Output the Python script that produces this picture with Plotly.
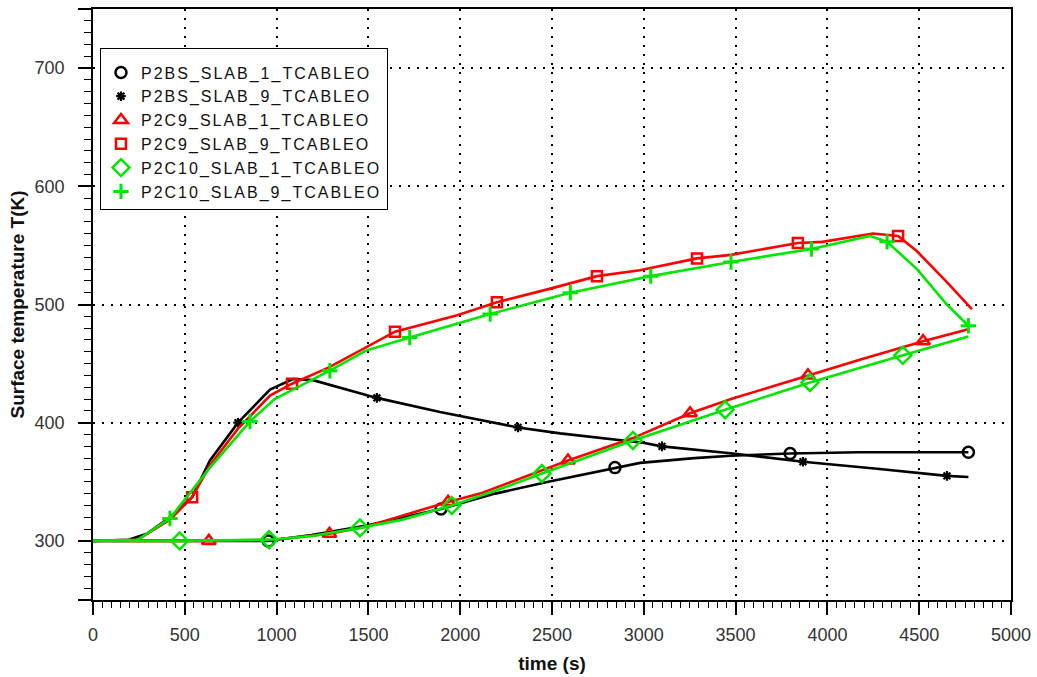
import plotly.graph_objects as go

# ---------------- data ----------------
names = ["P2BS_SLAB_1_TCABLEO", "P2BS_SLAB_9_TCABLEO",
         "P2C9_SLAB_1_TCABLEO", "P2C9_SLAB_9_TCABLEO",
         "P2C10_SLAB_1_TCABLEO", "P2C10_SLAB_9_TCABLEO"]

bs1_t = [0, 490, 955, 1190, 1490, 1895, 2190, 2480, 2843, 2980, 3275, 3475, 3797, 4170, 4470, 4768]
bs1_T = [300, 300, 300, 305, 313, 327, 340, 350, 362, 366, 370, 372, 374, 375, 375, 375]
bs1_mk = [2, 5, 8, 12, 15]

bs9_t = [0, 194, 293, 419, 540, 637, 790, 964, 1089, 1198, 1546, 1890, 2315, 2544, 2996, 3099,
         3485, 3867, 4271, 4651, 4768]
bs9_T = [300, 301, 306, 320, 337, 368, 400, 428, 437, 436, 421, 409, 396, 391, 383, 380,
         374, 367, 361, 355, 354]
bs9_mk = [6, 10, 12, 15, 17, 19]

c9s1_t = [0, 631, 989, 1288, 1486, 1934, 2108, 2587, 2941, 3252, 3475, 3894, 4172, 4521, 4768]
c9s1_T = [300, 300, 301, 306, 312, 333, 340, 368, 387, 408, 420, 440, 453, 469, 479]
c9s1_mk = [1, 3, 5, 7, 9, 11, 13]

c9s9_t = [0, 243, 419, 540, 637, 790, 964, 1084, 1288, 1486, 1645, 1984, 2200, 2481, 2745, 2978,
          3290, 3475, 3839, 3973, 4248, 4385, 4488, 4651, 4787]
c9s9_T = [300, 301, 318, 337, 364, 395, 423, 433, 447, 464, 477, 491, 502, 513, 524, 529,
          539, 542, 552, 553, 560, 558, 545, 519, 496]
c9s9_mk = [3, 7, 10, 12, 14, 16, 18, 21]

c10s1_t = [0, 472, 959, 1188, 1454, 1685, 1954, 2183, 2445, 2941, 3443, 3905, 4411, 4768]
c10s1_T = [300, 300, 301, 304, 311, 318, 330, 342, 357, 385, 411, 434, 457, 473]
c10s1_mk = [1, 2, 4, 6, 8, 9, 10, 11, 12]

c10s9_t = [0, 243, 419, 637, 855, 989, 1290, 1486, 1725, 1984, 2163, 2481, 2600, 3038, 3475,
           3913, 4232, 4325, 4488, 4651, 4768]
c10s9_T = [300, 301, 319, 362, 401, 420, 444, 461, 472, 484, 492, 505, 510, 524, 536,
           547, 558, 553, 530, 500, 482]
c10s9_mk = [2, 4, 6, 8, 10, 12, 13, 14, 15, 17, 20]

x_ticks = [0, 500, 1000, 1500, 2000, 2500, 3000, 3500, 4000, 4500, 5000]
x_labels = ["0", "500", "1000", "1500", "2000", "2500", "3000", "3500", "4000", "4500", "5000"]
y_ticks = [250, 300, 400, 500, 600, 700, 750]
y_labels = ["", "300", "400", "500", "600", "700", ""]

# ---------------- styles ----------------
BLACK, RED, GREEN = "#000000", "#ff0000", "#00e600"
series = [
    (names[0], bs1_t, bs1_T, bs1_mk, BLACK, dict(symbol="circle-open", size=11, line=dict(width=2.5))),
    (names[1], bs9_t, bs9_T, bs9_mk, BLACK, dict(symbol="asterisk-open", size=8, line=dict(width=2.2))),
    (names[2], c9s1_t, c9s1_T, c9s1_mk, RED, dict(symbol="triangle-up-open", size=12, line=dict(width=2.5))),
    (names[3], c9s9_t, c9s9_T, c9s9_mk, RED, dict(symbol="square-open", size=10, line=dict(width=2.5))),
    (names[4], c10s1_t, c10s1_T, c10s1_mk, GREEN, dict(symbol="diamond-open", size=13, line=dict(width=2.5))),
    (names[5], c10s9_t, c10s9_T, c10s9_mk, GREEN, dict(symbol="cross-thin-open", size=11, line=dict(width=3))),
]

fig = go.Figure()
for name, t, T, mk, col, marker in series:
    marker = dict(marker, color=col)
    marker["line"] = dict(marker["line"], color=col)
    fig.add_trace(go.Scatter(x=t, y=T, mode="lines", line=dict(color=col, width=2.6),
                             showlegend=False, legendgroup=name, hoverinfo="skip"))
    fig.add_trace(go.Scatter(x=[t[i] for i in mk], y=[T[i] for i in mk], mode="markers",
                             marker=marker, legendgroup=name,
                             name='<span style="letter-spacing:2px">' + name + '</span>'))

tick_font = dict(family="Liberation Sans, Arial, sans-serif", size=18, color="#333333")
title_font = dict(family="Liberation Sans, Arial, sans-serif", size=19, color="#111111")
grid_dash = "2px,7px"

fig.update_layout(
    width=1037, height=677,
    margin=dict(l=93, r=26, t=9, b=77),
    paper_bgcolor="white", plot_bgcolor="white",
    showlegend=True,
    legend=dict(x=0.0076, y=0.934, xanchor="left", yanchor="top",
                bgcolor="white", bordercolor="black", borderwidth=1,
                font=dict(family="Liberation Sans, Arial, sans-serif", size=16, color="#111111"),
                tracegroupgap=0,
                title=dict(text=" ", font=dict(size=5))),
)
fig.update_xaxes(
    range=[0, 5000], tickvals=x_ticks, ticktext=x_labels, automargin=False,
    showline=True, linecolor="black", linewidth=1.5, mirror=True,
    ticks="outside", ticklen=13, tickwidth=1.5, tickcolor="black",
    tickfont=tick_font, ticklabelstandoff=5,
    showgrid=True, gridcolor="black", gridwidth=1.5, griddash=grid_dash,
    zeroline=False,
    minor=dict(dtick=50, ticks="outside", ticklen=6, tickwidth=1.2, tickcolor="black", showgrid=False),
    title=dict(text="<b>time (s)</b>", font=title_font, standoff=12),
)
fig.update_yaxes(
    range=[250, 750], tickvals=y_ticks, ticktext=y_labels, automargin=False,
    showline=True, linecolor="black", linewidth=1.5, mirror=True,
    ticks="outside", ticklen=13, tickwidth=1.5, tickcolor="black",
    tickfont=tick_font, ticklabelstandoff=10,
    showgrid=True, gridcolor="black", gridwidth=1.5, griddash=grid_dash,
    zeroline=False,
    minor=dict(dtick=10, ticks="outside", ticklen=7, tickwidth=1.2, tickcolor="black", showgrid=False),
    title=dict(text="<b>Surface temperature T(K)</b>", font=title_font, standoff=5),
)

fig.write_html("out.html", config={"displayModeBar": False},
               post_script="document.body.style.margin='0px';")
